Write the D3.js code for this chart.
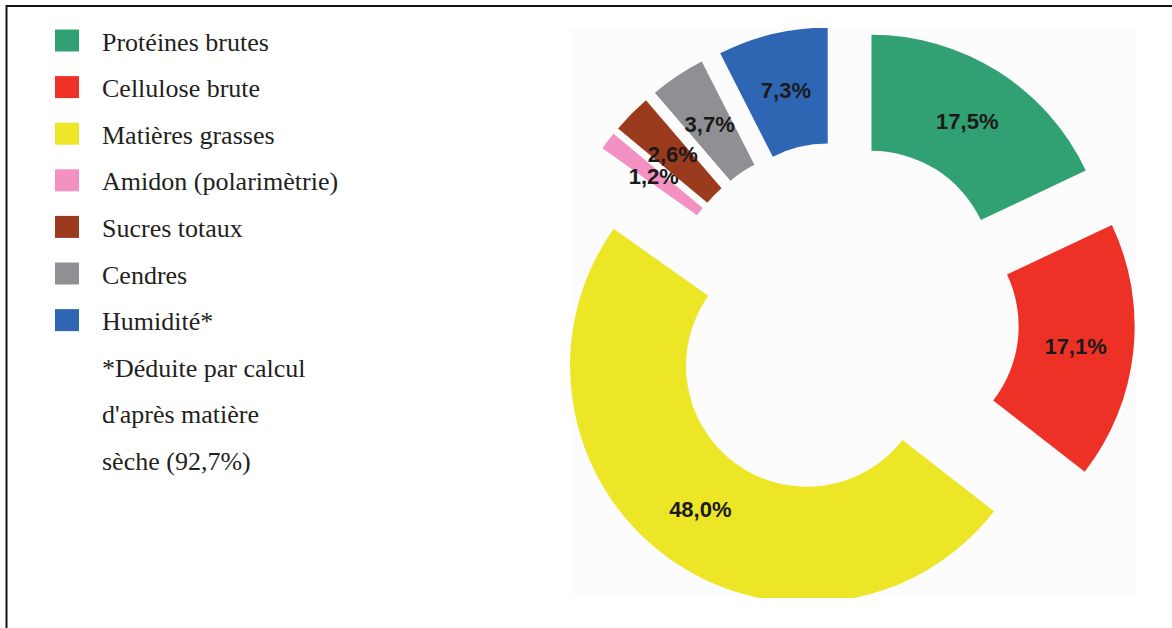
<!DOCTYPE html>
<html lang="fr">
<head>
    <meta charset="UTF-8">
    <title>Composition</title>
    <style>
        body { margin: 0; background: #fff; }
        .slice-label { font-family: "Liberation Sans", Arial, sans-serif; font-size: 22px; font-weight: bold; fill: #1a1a1a; text-anchor: middle; }
    </style>
</head>
<body>
    <script src="https://d3js.org/d3.v7.min.js"></script>
    <script>
        // data
        const categories = ["Protéines brutes", "Cellulose brute", "Matières grasses", "Amidon (polarimètrie)", "Sucres totaux", "Cendres", "Humidité*"];
        const values = [17.5, 17.1, 48.0, 1.2, 2.6, 3.7, 7.3];
        const colors = ["#31a072", "#ee3127", "#ede626", "#f291c2", "#9a3b1d", "#8f9094", "#2f66b4"];
        const notes = ["*Déduite par calcul", "d'après matière", "sèche (92,7%)"];

        const width = 1172, height = 628;
        const serif = "'Liberation Serif', 'DejaVu Serif', 'Times New Roman', serif";
        const fmt = v => d3.format(".1f")(v).replace(".", ",") + "%";

        const svg = d3.select("body").append("svg")
            .attr("width", width)
            .attr("height", height);

        // frame (only top and left edges are visible in the window)
        svg.append("rect")
            .attr("x", 6.5).attr("y", 6)
            .attr("width", width + 20).attr("height", height + 20)
            .attr("fill", "none")
            .attr("stroke", "#111")
            .attr("stroke-width", 2);

        // legend
        const rowY = i => 40.5 + i * 46.6;
        const legend = svg.append("g")
            .attr("font-family", serif)
            .attr("font-size", 26)
            .attr("fill", "#231f20");

        const item = legend.selectAll("g.item")
            .data(categories)
            .enter().append("g")
            .attr("class", "item")
            .attr("transform", (d, i) => `translate(0,${rowY(i)})`);

        item.append("rect")
            .attr("x", 55).attr("y", -11)
            .attr("width", 24).attr("height", 22)
            .attr("fill", (d, i) => colors[i]);

        item.append("text")
            .attr("x", 102).attr("y", 10)
            .style("font-family", serif)
            .text(d => d);

        legend.selectAll("text.note")
            .data(notes)
            .enter().append("text")
            .attr("class", "note")
            .attr("x", 102)
            .attr("y", (d, i) => rowY(categories.length + i) + 10)
            .style("font-family", serif)
            .text(d => d);

        // chart picture area (cropped)
        const box = { x: 570, y: 28, w: 566, h: 570 };
        svg.append("clipPath").attr("id", "crop")
            .append("rect")
            .attr("x", box.x).attr("y", box.y)
            .attr("width", box.w).attr("height", box.h);

        svg.append("rect")
            .attr("x", box.x).attr("y", box.y)
            .attr("width", box.w).attr("height", box.h)
            .attr("fill", "#fcfcfc");

        const cx = 841, cy = 320;
        const inner = 121, outer = 237, explode = 57;

        const pie = d3.pie().sort(null).value(d => d);
        const arc = d3.arc().innerRadius(inner).outerRadius(outer);
        const arcs = pie(values);

        const chart = svg.append("g")
            .attr("clip-path", "url(#crop)")
            .append("g")
            .attr("transform", `translate(${cx},${cy})`);

        const slice = chart.selectAll("g.slice")
            .data(arcs)
            .enter().append("g")
            .attr("class", "slice")
            .attr("transform", d => {
                const a = (d.startAngle + d.endAngle) / 2;
                return `translate(${explode * Math.sin(a)},${-explode * Math.cos(a)})`;
            });

        slice.append("path")
            .attr("d", arc)
            .attr("fill", (d, i) => colors[i]);

        slice.append("text")
            .attr("class", "slice-label")
            .attr("transform", d => `translate(${arc.centroid(d)})`)
            .attr("dy", "0.36em")
            .text(d => fmt(d.data));
    </script>
</body>
</html>
